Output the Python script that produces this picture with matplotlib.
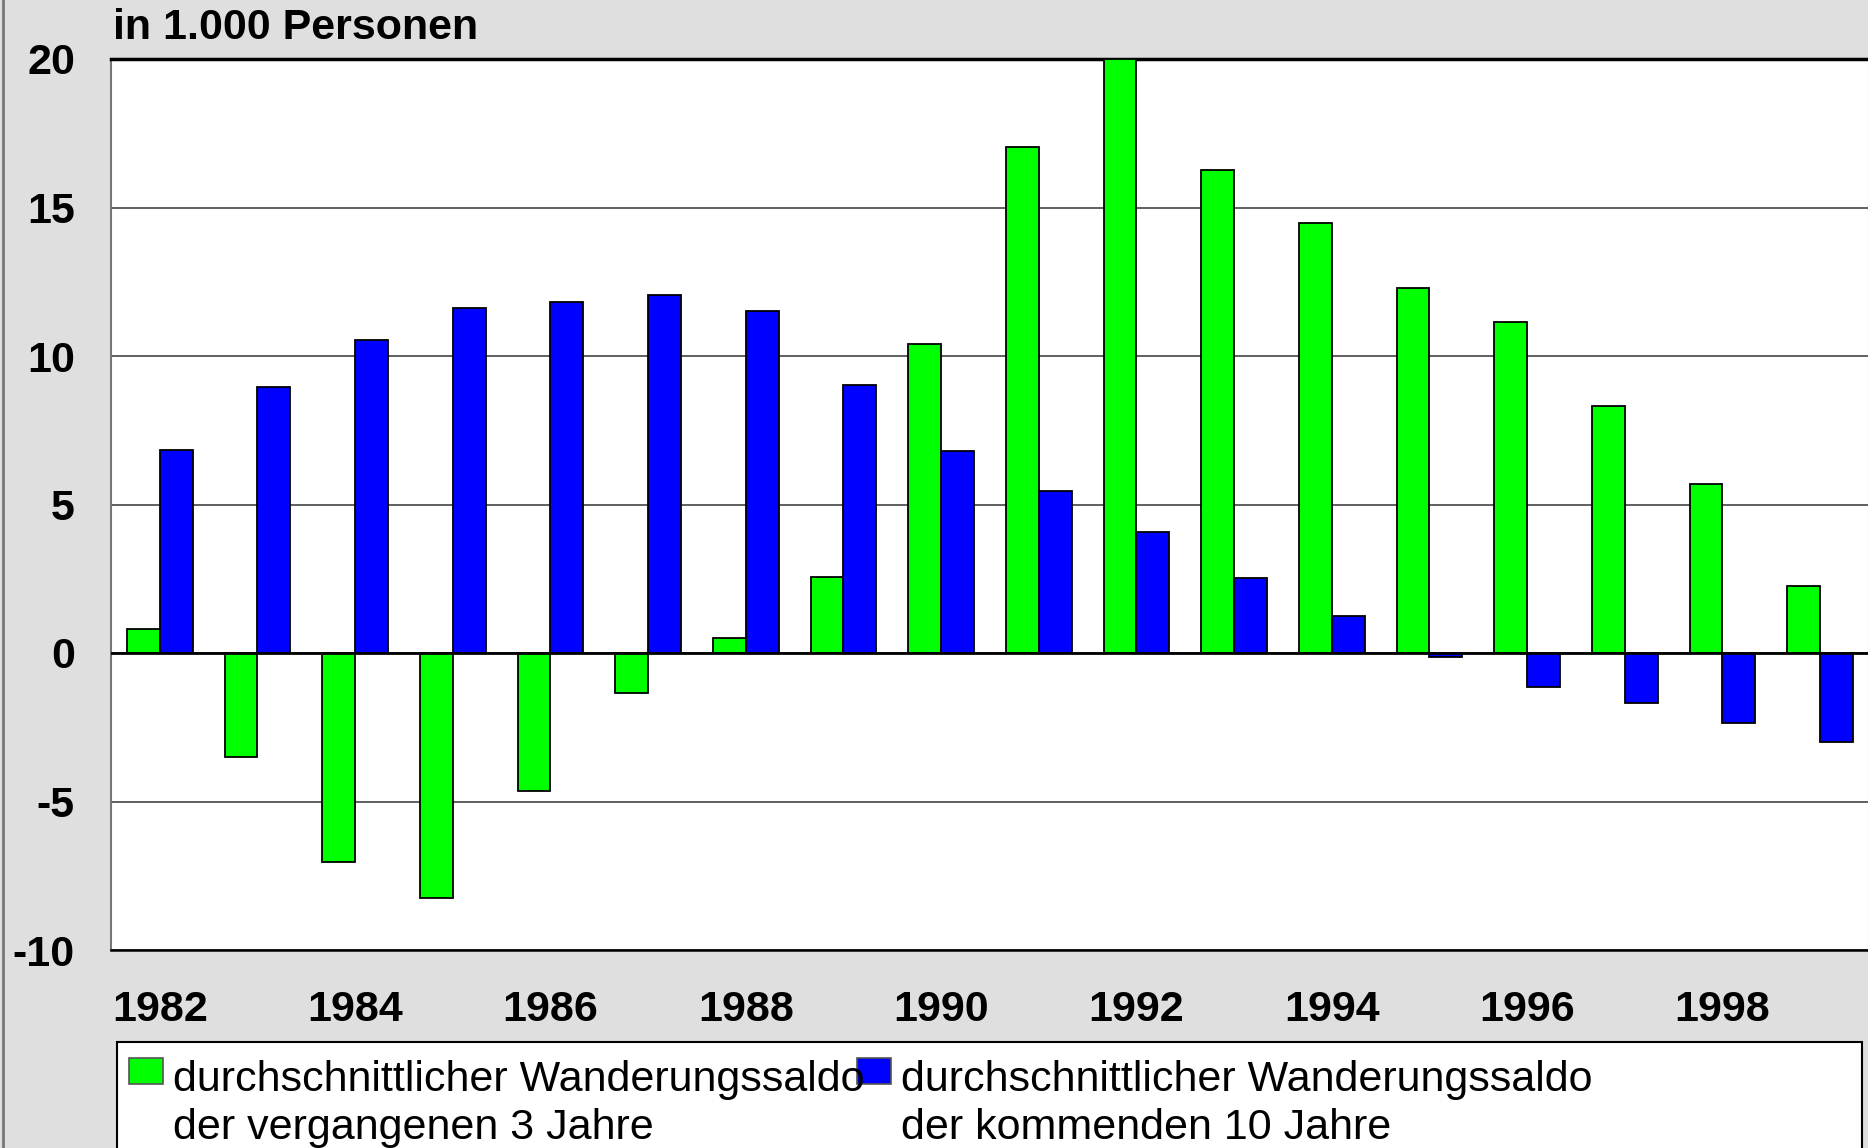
import matplotlib
matplotlib.use("Agg")
import matplotlib.pyplot as plt
from matplotlib.patches import Rectangle
from matplotlib.lines import Line2D
import numpy as np

plt.rcParams['font.family'] = ['Liberation Sans', 'DejaVu Sans']

# data
years = list(range(1982, 2000))
past_3y = [0.8, -3.5, -7.05, -8.25, -4.65, -1.35, 0.52, 2.56, 10.42, 17.03,
           20.0, 16.27, 14.47, 12.3, 11.14, 8.3, 5.69, 2.24]
next_10y = [6.85, 8.94, 10.54, 11.62, 11.82, 12.06, 11.5, 9.02, 6.81, 5.45,
            4.09, 2.53, 1.24, -0.15, -1.15, -1.7, -2.37, -3.0]
label_past = ["durchschnittlicher Wanderungssaldo", "der vergangenen 3 Jahre"]
label_next = ["durchschnittlicher Wanderungssaldo", "der kommenden 10 Jahre"]
yticks = [-10, -5, 0, 5, 10, 15, 20]

W, H = 1868, 1148
fs = 31
fig = plt.figure(figsize=(W / 100, H / 100), dpi=100, facecolor='#DFDFDF')

# axes box in pixels: left 111, right ~1869, top 59, bottom 950
ax = fig.add_axes([111 / W, 1 - 950 / H, (1869 - 111) / W, (950 - 59) / H])
ax.set_facecolor('white')

x = np.arange(len(years))
w = 0.335
ax.bar(x - w / 2, past_3y, w, color='#00FF00', edgecolor='black', linewidth=1.3, zorder=3)
ax.bar(x + w / 2, next_10y, w, color='#0000FF', edgecolor='black', linewidth=1.3, zorder=3)

ax.set_xlim(-0.5, len(years) - 0.5)
ax.set_ylim(-10, 20)
ax.set_yticks(yticks)
ax.set_yticklabels([str(v) for v in yticks], fontsize=fs, fontweight='bold')
ax.set_xticks(x[::2])
ax.set_xticklabels([str(y) for y in years[::2]], fontsize=fs, fontweight='bold')
ax.tick_params(axis='y', length=0, pad=26)
ax.tick_params(axis='x', length=0, pad=29)

ax.yaxis.grid(True, color='#444444', linewidth=1.2, zorder=0)
ax.axhline(0, color='black', linewidth=2, zorder=4)

for s in ['left', 'right']:
    ax.spines[s].set_color('#777777')
    ax.spines[s].set_linewidth(1.5)
ax.spines['top'].set_color('black')
ax.spines['top'].set_linewidth(2.5)
ax.spines['bottom'].set_color('black')
ax.spines['bottom'].set_linewidth(1.8)

fig.text(113 / W, 1 - 39 / H, "in 1.000 Personen", fontsize=fs, fontweight='bold',
         va='baseline', ha='left')

# left border of the chart area
fig.add_artist(Line2D([3 / W, 3 / W], [0, 1], color='#777777', linewidth=2))

# legend box drawn by hand
fig.add_artist(Rectangle((117 / W, -0.02), (1862 - 117) / W, (H - 1042) / H + 0.02,
                         transform=fig.transFigure, facecolor='white',
                         edgecolor='black', linewidth=1.5))
for px, color, lines in [(129, '#00FF00', label_past), (857, '#0000FF', label_next)]:
    fig.add_artist(Rectangle((px / W, 1 - 1084 / H), 34 / W, 26 / H,
                             transform=fig.transFigure, facecolor=color,
                             edgecolor='#555555', linewidth=1.2))
    for k, line in enumerate(lines):
        fig.text((px + 44) / W, 1 - (1091 + 48 * k) / H, line, fontsize=fs,
                 va='baseline', ha='left')

fig.savefig("out.png", dpi=100, facecolor=fig.get_facecolor())
